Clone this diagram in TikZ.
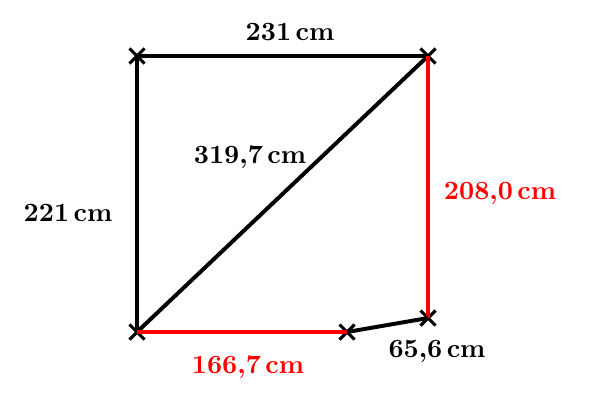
\documentclass[tikz,border=0pt]{standalone}
\usetikzlibrary{shapes.misc,positioning}

\begin{document}
\begin{tikzpicture}
    [x=0.01333cm,y=-0.01333cm,
    corner/.style={cross out,draw=black,line width=1.2pt,
                   inner sep=0pt,minimum size=4.5pt},
    side/.style={line width=1.5pt,draw=black},
    found/.style={side,draw=red},
    len/.style={font=\bfseries,inner sep=1pt},
    lenred/.style={len,text=red}]

    \useasboundingbox (0,0) rectangle (590,411);

    \node[corner] (top left)     at (137,56)  {};
    \node[corner] (top right)    at (428,56)  {};
    \node[corner] (bottom left)  at (137,332) {};
    \node[corner] (bottom mid)   at (347,332) {};
    \node[corner] (bottom right) at (428,318) {};

    \draw[side]  (top left.center) -- (top right.center);
    \draw[side]  (top left.center) -- (bottom left.center);
    \draw[side]  (bottom left.center) -- (top right.center);
    \draw[found] (top right.center) -- (bottom right.center);
    \draw[found] (bottom left.center) -- (bottom mid.center);
    \draw[side]  (bottom mid.center) -- (bottom right.center);

    \node[len]    (top len)    at (290,32)  {231\,cm};
    \node[len]    (left len)   at (68,213)  {221\,cm};
    \node[len]    (diag len)   at (250,157) {319,7\,cm};
    \node[lenred] (right len)  at (500,193) {208,0\,cm};
    \node[lenred] (bottom len) at (248,367) {166,7\,cm};
    \node[len]    (short len)  at (437,351) {65,6\,cm};
\end{tikzpicture}
\end{document}
